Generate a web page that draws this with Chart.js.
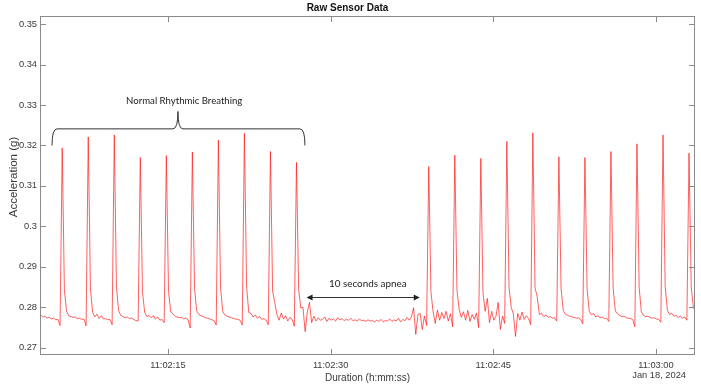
<!DOCTYPE html>
<html lang="pt-BR">
<head>
<meta charset="UTF-8">
<title>Raw Sensor Data</title>
<script src="https://cdn.jsdelivr.net/npm/chart.js@4.4.1/dist/chart.umd.min.js"></script>
<style>
  html, body { margin: 0; padding: 0; background: #fff; }
  #grafico-container { width: 701px; height: 390px; }
</style>
</head>
<body>
<div id="grafico-container"><canvas id="grafico-sensor"></canvas></div>
<script>
// Dados: uma amostra a cada 0,2 s, tempo em segundos desde 11:02:00
const inicioAmostras = 3.25;
const passoAmostras = 0.2;
const aceleracao = [
  0.2781, 0.2776, 0.2778, 0.2773, 0.2775, 0.2771, 0.2773, 0.2769, 0.2770, 0.2755,
  // respiração normal (cada linha começa num pico)
  0.3194, 0.2842, 0.2790, 0.2779, 0.2777, 0.2775, 0.2776, 0.2772, 0.2773, 0.2770, 0.2771, 0.2754,
  0.3221, 0.2845, 0.2788, 0.2776, 0.2783, 0.2772, 0.2779, 0.2771, 0.2772, 0.2769, 0.2770, 0.2757,
  0.3226, 0.2850, 0.2792, 0.2780, 0.2777, 0.2774, 0.2776, 0.2772, 0.2773, 0.2770, 0.2767, 0.2766,
  0.3170, 0.2838, 0.2788, 0.2777, 0.2780, 0.2774, 0.2779, 0.2771, 0.2776, 0.2768, 0.2770, 0.2762,
  0.3175, 0.2841, 0.2789, 0.2784, 0.2778, 0.2776, 0.2774, 0.2775, 0.2771, 0.2773, 0.2769, 0.2749,
  0.3184, 0.2846, 0.2791, 0.2782, 0.2779, 0.2777, 0.2774, 0.2773, 0.2771, 0.2769, 0.2767, 0.2756,
  0.3213, 0.2848, 0.2790, 0.2781, 0.2778, 0.2776, 0.2774, 0.2772, 0.2771, 0.2770, 0.2768, 0.2756,
  0.3230, 0.2852, 0.2787, 0.2785, 0.2776, 0.2781, 0.2773, 0.2777, 0.2770, 0.2772, 0.2768, 0.2757,
  0.3185, 0.2840, 0.2812, 0.2782, 0.2768, 0.2786, 0.2771, 0.2779, 0.2766, 0.2775, 0.2770, 0.2753,
  0.3158, 0.2845, 0.2798, 0.2800, 0.2740, 0.2788, 0.2812, 0.2762, 0.2778, 0.2766, 0.2774, 0.2768,
  // apneia
  0.2770, 0.2776, 0.2765, 0.2773, 0.2768, 0.2771, 0.2766, 0.2774, 0.2769, 0.2772,
  0.2767, 0.2770, 0.2768, 0.2773, 0.2767, 0.2769, 0.2766, 0.2771, 0.2767, 0.2768,
  0.2765, 0.2769, 0.2766, 0.2767, 0.2764, 0.2768, 0.2765, 0.2770, 0.2764, 0.2767,
  0.2766, 0.2771, 0.2765, 0.2769, 0.2766, 0.2773, 0.2764, 0.2770, 0.2767, 0.2775,
  0.2768, 0.2776, 0.2799, 0.2733, 0.2782, 0.2785, 0.2745, 0.2778, 0.2755,
  // respiração retomada
  0.3148, 0.2838, 0.2789, 0.2760, 0.2793, 0.2768, 0.2787, 0.2772, 0.2790, 0.2766, 0.2784, 0.2752,
  0.3176, 0.2842, 0.2795, 0.2775, 0.2789, 0.2768, 0.2792, 0.2765, 0.2782, 0.2770, 0.2786, 0.2750,
  0.3168, 0.2835, 0.2790, 0.2822, 0.2762, 0.2790, 0.2768, 0.2778, 0.2812, 0.2745, 0.2778, 0.2760,
  0.3210, 0.2850, 0.2800, 0.2783, 0.2728, 0.2785, 0.2768, 0.2788, 0.2770, 0.2779, 0.2772, 0.2757,
  0.3231, 0.2848, 0.2826, 0.2782, 0.2785, 0.2777, 0.2781, 0.2775, 0.2777, 0.2773, 0.2774, 0.2766,
  0.3172, 0.2846, 0.2792, 0.2783, 0.2780, 0.2778, 0.2776, 0.2775, 0.2773, 0.2774, 0.2770, 0.2759,
  0.3170, 0.2844, 0.2790, 0.2781, 0.2785, 0.2776, 0.2779, 0.2774, 0.2776, 0.2772, 0.2773, 0.2765,
  0.3185, 0.2847, 0.2791, 0.2784, 0.2780, 0.2777, 0.2778, 0.2774, 0.2773, 0.2772, 0.2770, 0.2752,
  0.3204, 0.2849, 0.2789, 0.2780, 0.2777, 0.2778, 0.2775, 0.2773, 0.2774, 0.2771, 0.2770, 0.2763,
  0.3226, 0.2851, 0.2793, 0.2782, 0.2785, 0.2778, 0.2780, 0.2775, 0.2778, 0.2773, 0.2776, 0.2768,
  0.3181, 0.2850, 0.2800, 0.2788
];

// Eixos
const ticksX = [15, 30, 45, 60];
const rotulosX = ['11:02:15', '11:02:30', '11:02:45', '11:03:00'];
const ticksY = [0.27, 0.28, 0.29, 0.30, 0.31, 0.32, 0.33, 0.34, 0.35];
const rotulosY = ['0.27', '0.28', '0.29', '0.3', '0.31', '0.32', '0.33', '0.34', '0.35'];
const dataEixo = 'Jan 18, 2024';
const tituloY = 'Acceleration (g)';

// Anotações (em unidades dos eixos)
const chave = { inicio: 4.31, fim: 27.63, ponta: 15.92, topo: 0.3241, bico: 0.3284, base: 0.3200 };
const textoChave = { texto: 'Normal Rhythmic Breathing', x: 16.5, y: 0.3311 };
const seta = { inicio: 27.78, fim: 38.22, y: 0.2826 };
const textoSeta = { texto: '10 seconds apnea', x: 33.43, y: 0.2858 };

let graficoSensor;

const corEixo = '#8a8a8a';
const corTexto = '#3a3a3a';
const fonteBase = '"Liberation Sans", Arial, sans-serif';
const fonteNota = 'Lato, "Open Sans", sans-serif';

// Moldura com marcas para dentro, como no MATLAB
const pluginMoldura = {
  id: 'moldura',
  afterDatasetsDraw(chart) {
    const { ctx, chartArea: a, scales: { x, y } } = chart;
    ctx.save();
    ctx.strokeStyle = corEixo;
    ctx.lineWidth = 1;
    ctx.strokeRect(Math.round(a.left) + 0.5, Math.round(a.top) + 0.5,
      Math.round(a.right - a.left) - 1, Math.round(a.bottom - a.top) - 1);
    ctx.beginPath();
    ticksX.forEach(v => {
      const px = Math.round(x.getPixelForValue(v)) + 0.5;
      ctx.moveTo(px, a.bottom); ctx.lineTo(px, a.bottom - 6);
      ctx.moveTo(px, a.top); ctx.lineTo(px, a.top + 6);
    });
    ticksY.forEach(v => {
      const py = Math.round(y.getPixelForValue(v)) + 0.5;
      ctx.moveTo(a.left, py); ctx.lineTo(a.left + 6, py);
      ctx.moveTo(a.right, py); ctx.lineTo(a.right - 6, py);
    });
    ctx.stroke();

    // data abaixo do último rótulo
    ctx.fillStyle = corTexto;
    ctx.font = '9.3px ' + fonteBase;
    ctx.textAlign = 'right';
    ctx.textBaseline = 'middle';
    ctx.fillText(dataEixo, a.right - 9, 375.5);

    // título do eixo y
    ctx.translate(13.5, 177);
    ctx.rotate(-Math.PI / 2);
    ctx.textAlign = 'center';
    ctx.font = '11.5px ' + fonteBase;
    ctx.fillText(tituloY, 0, 0);
    ctx.restore();
  }
};

// Chave e seta das anotações
const pluginAnotacoes = {
  id: 'anotacoes',
  afterDraw(chart) {
    const { ctx, scales: { x, y } } = chart;
    const x0 = x.getPixelForValue(chave.inicio);
    const x1 = x.getPixelForValue(chave.fim);
    const xm = x.getPixelForValue(chave.ponta);
    const yt = y.getPixelForValue(chave.topo);
    const yb = y.getPixelForValue(chave.base);
    const yp = y.getPixelForValue(chave.bico);
    const r = 5;

    ctx.save();
    ctx.strokeStyle = '#333';
    ctx.lineWidth = 1;
    ctx.beginPath();
    ctx.moveTo(x0, yb);
    ctx.quadraticCurveTo(x0, yt, x0 + r, yt);
    ctx.lineTo(xm - r, yt);
    ctx.quadraticCurveTo(xm, yt, xm, yp);
    ctx.quadraticCurveTo(xm, yt, xm + r, yt);
    ctx.lineTo(x1 - r, yt);
    ctx.quadraticCurveTo(x1, yt, x1, yb);
    ctx.stroke();

    // seta dupla
    const sa = x.getPixelForValue(seta.inicio);
    const sb = x.getPixelForValue(seta.fim);
    const sy = Math.round(y.getPixelForValue(seta.y)) + 0.5;
    ctx.beginPath();
    ctx.moveTo(sa + 4, sy);
    ctx.lineTo(sb - 4, sy);
    ctx.stroke();
    ctx.fillStyle = '#222';
    ctx.beginPath();
    ctx.moveTo(sa, sy); ctx.lineTo(sa + 6, sy - 3); ctx.lineTo(sa + 6, sy + 3); ctx.closePath();
    ctx.moveTo(sb, sy); ctx.lineTo(sb - 6, sy - 3); ctx.lineTo(sb - 6, sy + 3); ctx.closePath();
    ctx.fill();

    ctx.fillStyle = '#222';
    ctx.font = '9.6px ' + fonteNota;
    ctx.textAlign = 'center';
    ctx.textBaseline = 'middle';
    ctx.fillText(textoChave.texto, x.getPixelForValue(textoChave.x), y.getPixelForValue(textoChave.y));
    ctx.font = '9.9px ' + fonteNota;
    ctx.fillText(textoSeta.texto, x.getPixelForValue(textoSeta.x), y.getPixelForValue(textoSeta.y));
    ctx.restore();
  }
};

function criarGrafico() {
  const pontos = aceleracao.map((v, i) => ({ x: inicioAmostras + i * passoAmostras, y: v }));

  if (graficoSensor) {
    graficoSensor.destroy();
  }
  const ctx = document.getElementById('grafico-sensor').getContext('2d');
  graficoSensor = new Chart(ctx, {
    type: 'line',
    data: {
      datasets: [{
        label: 'Acceleration',
        data: pontos,
        borderColor: 'rgba(255, 20, 20, 0.68)',
        borderWidth: 1,
        pointRadius: 0,
        tension: 0,
        fill: false
      }]
    },
    options: {
      responsive: true,
      maintainAspectRatio: false,
      animation: false,
      layout: { padding: { left: 0, right: 6, top: 0, bottom: 0 } },
      plugins: {
        legend: { display: false },
        tooltip: { enabled: false },
        title: {
          display: true,
          text: 'Raw Sensor Data',
          color: '#111',
          font: { family: fonteBase, size: 10, weight: 'bold' },
          padding: { top: 2.2, bottom: 1.8 }
        }
      },
      scales: {
        x: {
          type: 'linear',
          min: 3.2,
          max: 63.6,
          grid: { display: false, drawTicks: false },
          border: { display: false },
          afterBuildTicks: s => { s.ticks = ticksX.map(v => ({ value: v })); },
          afterFit: s => { s.height = 35; },
          ticks: {
            padding: 4.7,
            color: corTexto,
            font: { family: fonteBase, size: 9.3 },
            maxRotation: 0,
            callback: (v) => rotulosX[ticksX.indexOf(v)]
          },
          title: {
            display: true,
            text: 'Duration (h:mm:ss)',
            color: corTexto,
            font: { family: fonteBase, size: 10 },
            padding: { top: 0, bottom: 5.7 }
          }
        },
        y: {
          min: 0.2682,
          max: 0.352,
          grid: { display: false, drawTicks: false },
          border: { display: false },
          afterBuildTicks: s => { s.ticks = ticksY.map(v => ({ value: v })); },
          afterFit: s => { s.width = 40; },
          ticks: {
            padding: 3,
            color: corTexto,
            font: { family: fonteBase, size: 9.3 },
            callback: (v) => rotulosY[ticksY.findIndex(t => Math.abs(t - v) < 1e-9)]
          },
          title: { display: false }
        }
      }
    },
    plugins: [pluginMoldura, pluginAnotacoes]
  });
}

document.addEventListener('DOMContentLoaded', function () {
  criarGrafico();
});
</script>
</body>
</html>
